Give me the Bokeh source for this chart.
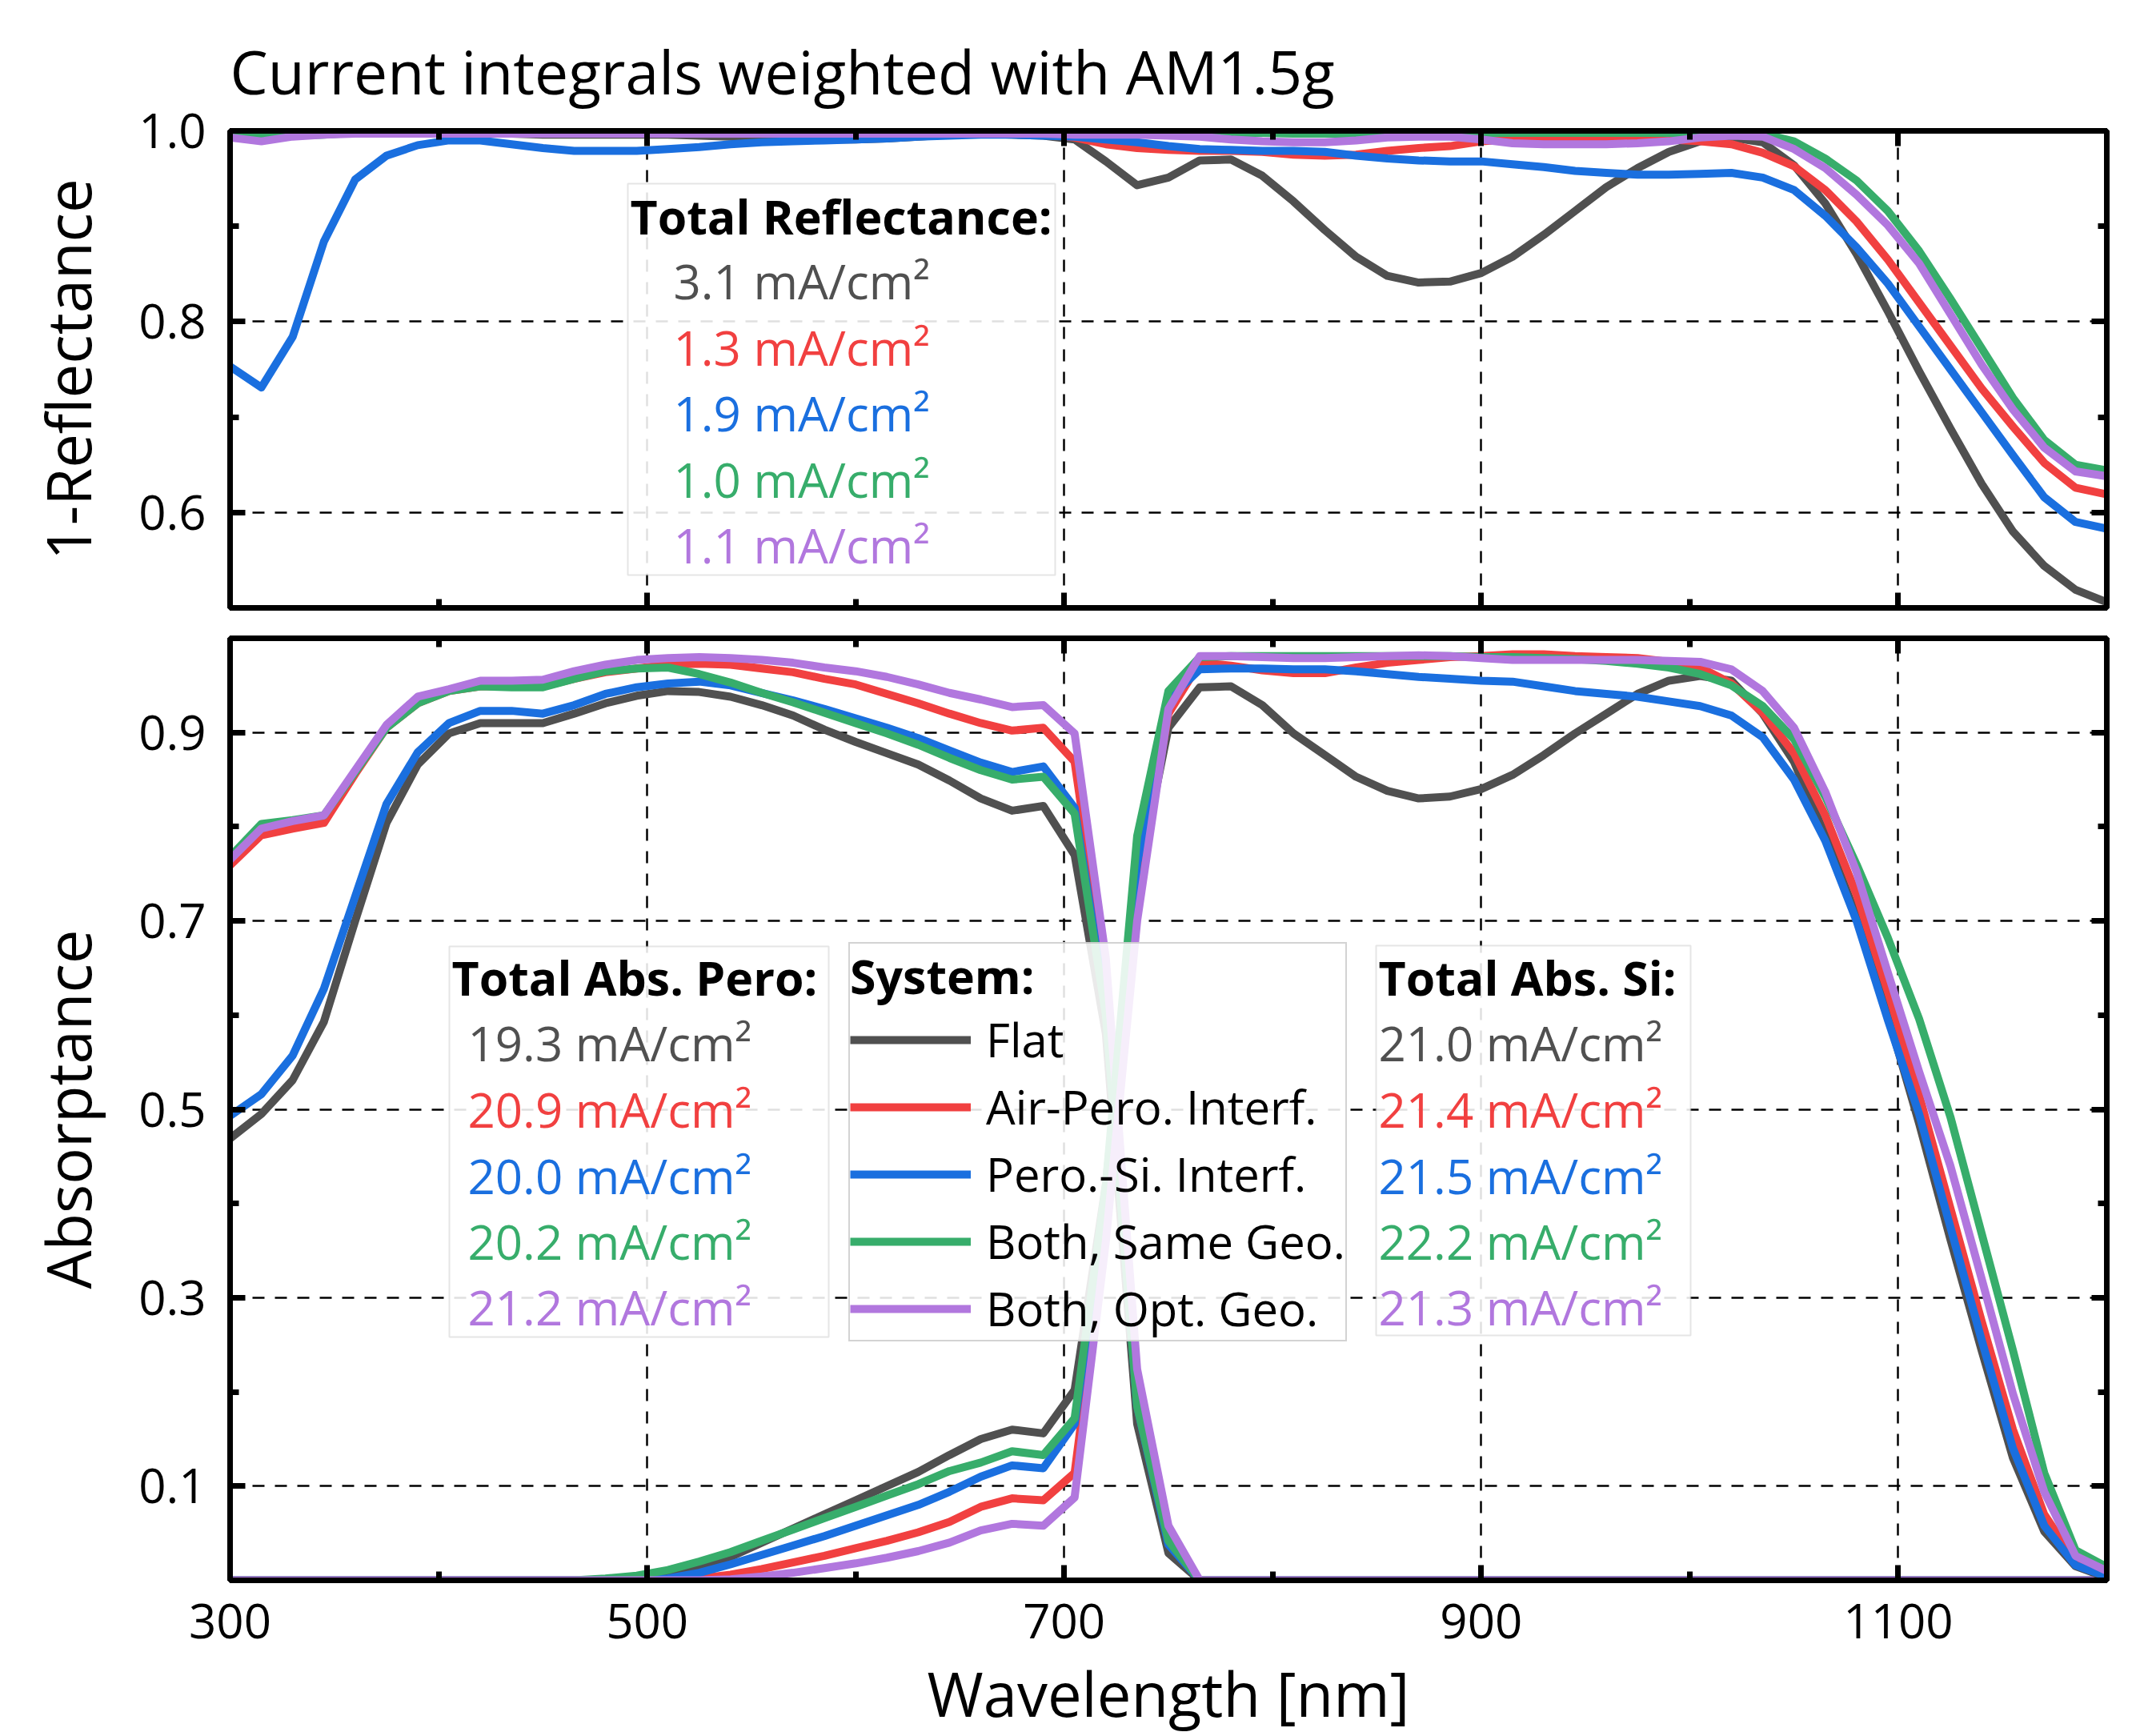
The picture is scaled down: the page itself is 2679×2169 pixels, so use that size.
from bokeh.plotting import figure
from bokeh.models import (Range1d, FixedTicker, LinearAxis, PrintfTickFormatter,
                          CustomJSTickFormatter, BoxAnnotation, Label, Legend, LegendItem)
from bokeh.layouts import column
from bokeh.embed import file_html
from bokeh.resources import INLINE

# ---------------- data ----------------
wavelength = [300, 315, 330, 345, 360, 375, 390, 405, 420, 435,
              450, 465, 480, 495, 510, 525, 540, 555, 570, 585,
              600, 615, 630, 645, 660, 675, 690, 705, 720, 735,
              750, 765, 780, 795, 810, 825, 840, 855, 870, 885,
              900, 915, 930, 945, 960, 975, 990, 1005, 1020, 1035,
              1050, 1065, 1080, 1095, 1110, 1125, 1140, 1155, 1170, 1185,
              1200]

systems = ["Flat", "Air-Pero. Interf.", "Pero.-Si. Interf.", "Both, Same Geo.", "Both, Opt. Geo."]
colors = ["#505050", "#F14040", "#1A6FDF", "#37AD6B", "#B177DE"]

refl_currents = ["3.1", "1.3", "1.9", "1.0", "1.1"]
pero_currents = ["19.3", "20.9", "20.0", "20.2", "21.2"]
si_currents = ["21.0", "21.4", "21.5", "22.2", "21.3"]

x_major = [300, 500, 700, 900, 1100]
x_minor = [400, 600, 800, 1000, 1200]
x_grid = [500, 700, 900, 1100]
top_y_major = [0.6, 0.8, 1.0]
top_y_minor = [0.5, 0.7, 0.9]
bot_y_major = [0.1, 0.3, 0.5, 0.7, 0.9]
bot_y_minor = [0.0, 0.2, 0.4, 0.6, 0.8, 1.0]

# 1 - Reflectance
refl_flat = [0.997, 0.996, 0.997, 0.998, 0.998, 0.998, 0.998, 0.998, 0.997, 0.997,
             0.996, 0.996, 0.996, 0.996, 0.996, 0.995, 0.994, 0.993, 0.992, 0.991,
             0.991, 0.992, 0.994, 0.996, 0.997, 0.996, 0.995, 0.991, 0.968, 0.943,
             0.951, 0.969, 0.970, 0.953, 0.926, 0.896, 0.868, 0.848, 0.841, 0.842,
             0.851, 0.868, 0.891, 0.916, 0.941, 0.961, 0.978, 0.989, 0.993, 0.988,
             0.964, 0.924, 0.871, 0.811, 0.748, 0.688, 0.630, 0.580, 0.544, 0.519,
             0.506]
refl_air = [0.996, 0.994, 0.996, 0.997, 0.998, 0.998, 0.998, 0.998, 0.998, 0.998,
            0.998, 0.998, 0.998, 0.998, 0.998, 0.998, 0.998, 0.997, 0.997, 0.997,
            0.996, 0.996, 0.997, 0.997, 0.998, 0.998, 0.997, 0.993, 0.986, 0.982,
            0.980, 0.979, 0.979, 0.978, 0.975, 0.974, 0.975, 0.979, 0.982, 0.984,
            0.989, 0.991, 0.992, 0.993, 0.993, 0.993, 0.991, 0.989, 0.986, 0.977,
            0.963, 0.938, 0.905, 0.865, 0.820, 0.775, 0.730, 0.690, 0.652, 0.626,
            0.619]
refl_si = [0.753, 0.731, 0.784, 0.884, 0.949, 0.974, 0.985, 0.990, 0.990, 0.986,
           0.982, 0.979, 0.979, 0.979, 0.981, 0.983, 0.986, 0.988, 0.989, 0.990,
           0.991, 0.992, 0.994, 0.995, 0.996, 0.996, 0.995, 0.994, 0.991, 0.988,
           0.984, 0.981, 0.980, 0.979, 0.979, 0.978, 0.974, 0.971, 0.969, 0.968,
           0.968, 0.965, 0.962, 0.958, 0.956, 0.954, 0.954, 0.955, 0.956, 0.951,
           0.938, 0.911, 0.878, 0.840, 0.795, 0.750, 0.705, 0.660, 0.616, 0.590,
           0.583]
refl_same = [0.998, 0.995, 0.995, 0.996, 0.998, 0.998, 0.998, 0.998, 0.998, 0.998,
             0.998, 0.998, 0.998, 0.998, 0.998, 0.998, 0.998, 0.998, 0.998, 0.998,
             0.998, 0.998, 0.998, 0.998, 0.998, 0.998, 0.998, 0.998, 0.998, 0.998,
             0.998, 0.998, 0.998, 0.998, 0.997, 0.997, 0.997, 0.998, 0.998, 0.998,
             0.998, 0.998, 0.998, 0.998, 0.998, 0.998, 0.998, 0.998, 0.998, 0.997,
             0.989, 0.971, 0.948, 0.916, 0.874, 0.824, 0.772, 0.720, 0.676, 0.650,
             0.644]
refl_opt = [0.993, 0.989, 0.994, 0.996, 0.997, 0.997, 0.997, 0.997, 0.997, 0.997,
            0.997, 0.997, 0.997, 0.997, 0.997, 0.997, 0.997, 0.997, 0.997, 0.997,
            0.997, 0.997, 0.997, 0.997, 0.997, 0.997, 0.997, 0.996, 0.996, 0.996,
            0.995, 0.994, 0.991, 0.989, 0.988, 0.988, 0.990, 0.993, 0.994, 0.994,
            0.991, 0.987, 0.986, 0.986, 0.986, 0.987, 0.989, 0.993, 0.995, 0.994,
            0.981, 0.961, 0.933, 0.901, 0.861, 0.808, 0.755, 0.708, 0.668, 0.643,
            0.638]

# Absorptance in perovskite
pero_flat = [0.469, 0.495, 0.531, 0.593, 0.700, 0.804, 0.866, 0.899, 0.910, 0.910,
             0.910, 0.920, 0.931, 0.939, 0.944, 0.943, 0.938, 0.929, 0.918, 0.903,
             0.890, 0.878, 0.866, 0.849, 0.830, 0.817, 0.822, 0.770, 0.580, 0.166,
             0.029, 0.0, 0.0, 0.0, 0.0, 0.0, 0.0, 0.0, 0.0, 0.0,
             0.0, 0.0, 0.0, 0.0, 0.0, 0.0, 0.0, 0.0, 0.0, 0.0,
             0.0, 0.0, 0.0, 0.0, 0.0, 0.0, 0.0, 0.0, 0.0, 0.0,
             0.0]
pero_air = [0.759, 0.791, 0.798, 0.804, 0.856, 0.905, 0.931, 0.944, 0.949, 0.949,
            0.949, 0.957, 0.964, 0.968, 0.972, 0.973, 0.972, 0.968, 0.964, 0.957,
            0.951, 0.941, 0.931, 0.920, 0.910, 0.902, 0.905, 0.869, 0.640, 0.205,
            0.045, 0.0, 0.0, 0.0, 0.0, 0.0, 0.0, 0.0, 0.0, 0.0,
            0.0, 0.0, 0.0, 0.0, 0.0, 0.0, 0.0, 0.0, 0.0, 0.0,
            0.0, 0.0, 0.0, 0.0, 0.0, 0.0, 0.0, 0.0, 0.0, 0.0,
            0.0]
pero_si = [0.493, 0.516, 0.557, 0.628, 0.726, 0.824, 0.879, 0.910, 0.923, 0.923,
           0.920, 0.929, 0.941, 0.948, 0.952, 0.954, 0.950, 0.942, 0.934, 0.925,
           0.915, 0.905, 0.894, 0.881, 0.868, 0.858, 0.864, 0.820, 0.610, 0.185,
           0.038, 0.0, 0.0, 0.0, 0.0, 0.0, 0.0, 0.0, 0.0, 0.0,
           0.0, 0.0, 0.0, 0.0, 0.0, 0.0, 0.0, 0.0, 0.0, 0.0,
           0.0, 0.0, 0.0, 0.0, 0.0, 0.0, 0.0, 0.0, 0.0, 0.0,
           0.0]
pero_same = [0.768, 0.803, 0.807, 0.812, 0.858, 0.905, 0.931, 0.944, 0.949, 0.948,
             0.948, 0.957, 0.965, 0.968, 0.969, 0.962, 0.953, 0.942, 0.932, 0.921,
             0.910, 0.899, 0.887, 0.873, 0.860, 0.850, 0.853, 0.814, 0.600, 0.185,
             0.042, 0.0, 0.0, 0.0, 0.0, 0.0, 0.0, 0.0, 0.0, 0.0,
             0.0, 0.0, 0.0, 0.0, 0.0, 0.0, 0.0, 0.0, 0.0, 0.0,
             0.0, 0.0, 0.0, 0.0, 0.0, 0.0, 0.0, 0.0, 0.0, 0.0,
             0.0]
pero_opt = [0.765, 0.798, 0.806, 0.812, 0.860, 0.908, 0.938, 0.946, 0.955, 0.955,
            0.956, 0.965, 0.972, 0.977, 0.979, 0.980, 0.979, 0.977, 0.974, 0.969,
            0.965, 0.959, 0.951, 0.942, 0.935, 0.927, 0.929, 0.899, 0.660, 0.224,
            0.058, 0.0, 0.0, 0.0, 0.0, 0.0, 0.0, 0.0, 0.0, 0.0,
            0.0, 0.0, 0.0, 0.0, 0.0, 0.0, 0.0, 0.0, 0.0, 0.0,
            0.0, 0.0, 0.0, 0.0, 0.0, 0.0, 0.0, 0.0, 0.0, 0.0,
            0.0]

# Absorptance in silicon
si_flat = [0.0, 0.0, 0.0, 0.0, 0.0, 0.0, 0.0, 0.0, 0.0, 0.0,
           0.0, 0.0, 0.0, 0.0, 0.003, 0.012, 0.025, 0.040, 0.055, 0.070,
           0.085, 0.100, 0.115, 0.133, 0.150, 0.160, 0.156, 0.202, 0.420, 0.740,
           0.905, 0.948, 0.949, 0.929, 0.899, 0.876, 0.853, 0.838, 0.830, 0.832,
           0.840, 0.855, 0.876, 0.899, 0.920, 0.941, 0.955, 0.960, 0.955, 0.920,
           0.869, 0.791, 0.705, 0.600, 0.485, 0.362, 0.244, 0.130, 0.052, 0.015,
           0.003]
si_air = [0.0, 0.0, 0.0, 0.0, 0.0, 0.0, 0.0, 0.0, 0.0, 0.0,
          0.0, 0.0, 0.0, 0.0, 0.0, 0.002, 0.006, 0.012, 0.019, 0.026,
          0.034, 0.042, 0.051, 0.062, 0.078, 0.087, 0.085, 0.114, 0.370, 0.730,
          0.920, 0.974, 0.971, 0.966, 0.963, 0.963, 0.969, 0.974, 0.977, 0.980,
          0.981, 0.983, 0.983, 0.981, 0.980, 0.979, 0.975, 0.969, 0.952, 0.921,
          0.878, 0.812, 0.728, 0.625, 0.515, 0.395, 0.275, 0.160, 0.070, 0.020,
          0.006]
si_si = [0.0, 0.0, 0.0, 0.0, 0.0, 0.0, 0.0, 0.0, 0.0, 0.0,
         0.0, 0.0, 0.0, 0.0, 0.002, 0.008, 0.017, 0.027, 0.037, 0.047,
         0.058, 0.069, 0.080, 0.094, 0.110, 0.122, 0.119, 0.166, 0.400, 0.760,
         0.935, 0.967, 0.968, 0.968, 0.967, 0.967, 0.965, 0.962, 0.959, 0.957,
         0.955, 0.954, 0.949, 0.944, 0.941, 0.938, 0.933, 0.928, 0.918, 0.895,
         0.850, 0.785, 0.700, 0.595, 0.495, 0.375, 0.255, 0.140, 0.058, 0.016,
         0.004]
si_same = [0.0, 0.0, 0.0, 0.0, 0.0, 0.0, 0.0, 0.0, 0.0, 0.0,
           0.0, 0.0, 0.002, 0.005, 0.011, 0.020, 0.030, 0.042, 0.054, 0.066,
           0.078, 0.090, 0.102, 0.116, 0.125, 0.137, 0.133, 0.172, 0.420, 0.790,
           0.944, 0.980, 0.981, 0.981, 0.981, 0.981, 0.981, 0.981, 0.981, 0.981,
           0.980, 0.980, 0.979, 0.978, 0.976, 0.973, 0.969, 0.962, 0.950, 0.928,
           0.893, 0.832, 0.760, 0.682, 0.596, 0.492, 0.368, 0.244, 0.114, 0.032,
           0.014]
si_opt = [0.0, 0.0, 0.0, 0.0, 0.0, 0.0, 0.0, 0.0, 0.0, 0.0,
          0.0, 0.0, 0.0, 0.0, 0.0, 0.0, 0.001, 0.004, 0.008, 0.013,
          0.018, 0.024, 0.031, 0.040, 0.053, 0.060, 0.058, 0.088, 0.360, 0.700,
          0.925, 0.981, 0.981, 0.980, 0.979, 0.979, 0.980, 0.981, 0.982, 0.981,
          0.979, 0.977, 0.977, 0.977, 0.977, 0.977, 0.976, 0.975, 0.967, 0.944,
          0.905, 0.837, 0.752, 0.645, 0.540, 0.440, 0.320, 0.198, 0.094, 0.026,
          0.010]

refl_series = [refl_flat, refl_air, refl_si, refl_same, refl_opt]
pero_series = [pero_flat, pero_air, pero_si, pero_same, pero_opt]
si_series = [si_flat, si_air, si_si, si_same, si_opt]

# ---------------- layout constants (page pixels) ----------------
FONT = "Open Sans"
W = 2660
FRAME_L, FRAME_R = 287, 2632
TOP_T, TOP_B = 163, 759
BOT_T, BOT_B = 797, 1974
BORDER_L = FRAME_L
BORDER_R = W - FRAME_R
BOT_BORDER1 = 10
H1 = TOP_B + BOT_BORDER1
TOP_BORDER1 = TOP_T
TOP_BORDER2 = BOT_T - H1
BOT_BORDER2 = 195
H2 = TOP_BORDER2 + (BOT_B - BOT_T) + BOT_BORDER2
TEXT_SHIFT = -21   # label baseline correction, pixels

LW = 10


def px_x(px):
    return 300 + (px - FRAME_L) * 900.0 / (FRAME_R - FRAME_L)


def top_y(py):
    return 1.0 - (py - TOP_T) * 0.5 / (TOP_B - TOP_T)


def bot_y(py):
    return 1.0 - (py - BOT_T) * 1.0 / (BOT_B - BOT_T)


def style_axis(ax, show_labels):
    ax.axis_line_width = 7
    ax.axis_line_color = "black"
    ax.major_tick_in = 19
    ax.major_tick_out = 0
    ax.minor_tick_in = 11
    ax.minor_tick_out = 0
    ax.major_tick_line_width = 7
    ax.minor_tick_line_width = 7
    ax.major_tick_line_color = "black"
    ax.minor_tick_line_color = "black"
    if show_labels:
        ax.major_label_text_font = FONT
        ax.major_label_text_font_size = "60px"
        ax.major_label_text_color = "black"
    else:
        ax.formatter = CustomJSTickFormatter(code="return ''")
        ax.major_label_text_font_size = "1px"
        ax.major_label_standoff = 0


def build(fig_h, b_top, b_bot, y0, y1, yticks, yminor, xlabels):
    p = figure(width=W, height=fig_h, x_range=Range1d(300, 1200), y_range=Range1d(y0, y1),
               output_backend="svg", toolbar_location=None,
               min_border_left=BORDER_L, min_border_right=BORDER_R,
               min_border_top=b_top, min_border_bottom=b_bot)
    p.background_fill_color = "white"
    p.border_fill_color = "white"
    p.outline_line_color = "black"
    p.outline_line_width = 7
    xb = p.below[0]
    yl = p.left[0]
    xb.ticker = FixedTicker(ticks=x_major, minor_ticks=x_minor)
    yl.ticker = FixedTicker(ticks=yticks, minor_ticks=yminor)
    yl.formatter = PrintfTickFormatter(format="%.1f")
    style_axis(yl, True)
    yl.major_label_standoff = 30
    if xlabels:
        xb.formatter = PrintfTickFormatter(format="%d")
        style_axis(xb, True)
        xb.major_label_standoff = 29
    else:
        style_axis(xb, False)
    ax_top = LinearAxis(ticker=FixedTicker(ticks=x_major, minor_ticks=x_minor))
    style_axis(ax_top, False)
    p.add_layout(ax_top, "above")
    ax_right = LinearAxis(ticker=FixedTicker(ticks=yticks, minor_ticks=yminor))
    style_axis(ax_right, False)
    p.add_layout(ax_right, "right")
    p.xgrid.ticker = FixedTicker(ticks=x_grid)
    p.ygrid.ticker = FixedTicker(ticks=yticks)
    for g in (p.xgrid, p.ygrid):
        g.grid_line_color = "black"
        g.grid_line_width = 2.5
        g.grid_line_dash = "15 13"
    return p, xb, yl


def set_axis_label(ax, text, standoff):
    ax.axis_label = text
    ax.axis_label_text_font = FONT
    ax.axis_label_text_font_size = "76px"
    ax.axis_label_text_font_style = "normal"
    ax.axis_label_text_color = "black"
    ax.axis_label_standoff = standoff


def value_box(p, box, header, hx, hy, vx, vys, values, conv):
    l, t, r, b = box
    p.add_layout(BoxAnnotation(left=px_x(l), right=px_x(r), top=conv(t), bottom=conv(b),
                               fill_color="white", fill_alpha=0.88,
                               line_color="#a8a8a8", line_width=2))
    p.add_layout(Label(x=px_x(hx), y=conv(hy + TEXT_SHIFT), text=header, text_font=FONT,
                       text_font_size="59px", text_font_style="bold", text_color="black",
                       text_baseline="alphabetic", text_align="left"))
    for v, yy, c in zip(values, vys, colors):
        p.add_layout(Label(x=px_x(vx), y=conv(yy + TEXT_SHIFT), text=v + " mA/cm\u00b2",
                           text_font=FONT, text_font_size="60px", text_color=c,
                           text_baseline="alphabetic", text_align="left"))


# ---------------- top panel ----------------
p1, p1_x, p1_y = build(H1, TOP_BORDER1, BOT_BORDER1, 0.5, 1.0, top_y_major, top_y_minor, False)
p1.title.text = "Current integrals weighted with AM1.5g"
p1.title.text_font = FONT
p1.title.text_font_size = "75px"
p1.title.text_font_style = "normal"
p1.title.text_color = "black"
p1.title.align = "left"
p1.title.standoff = 48
set_axis_label(p1_y, "1-Reflectance", 34)

for ys, c in zip(refl_series, colors):
    p1.line(wavelength, ys, line_color=c, line_width=LW, line_join="round")

value_box(p1, (784, 229, 1318, 718), "Total Reflectance:", 787, 290, 841,
          [371, 454, 536, 619, 701], refl_currents, top_y)

# ---------------- bottom panel ----------------
p2, p2_x, p2_y = build(H2, TOP_BORDER2, BOT_BORDER2, 0.0, 1.0, bot_y_major, bot_y_minor, True)
set_axis_label(p2_y, "Absorptance", 34)
set_axis_label(p2_x, "Wavelength [nm]", 14)

pero_renderers = []
for ys, c in zip(pero_series, colors):
    pero_renderers.append(p2.line(wavelength, ys, line_color=c, line_width=LW, line_join="round"))
for ys, c in zip(si_series, colors):
    p2.line(wavelength, ys, line_color=c, line_width=LW, line_join="round")

value_box(p2, (561, 1182, 1035, 1670), "Total Abs. Pero:", 564, 1241, 584,
          [1323, 1406, 1489, 1571, 1653], pero_currents, bot_y)

legend = Legend(items=[LegendItem(label=s, renderers=[r]) for s, r in zip(systems, pero_renderers)],
                location=(1060 - FRAME_L, BOT_B - 1676),
                title="System:", title_text_font=FONT, title_text_font_size="59px",
                title_text_font_style="bold", title_standoff=0, title_text_color="black",
                label_text_font=FONT, label_text_font_size="58px", label_text_color="black",
                glyph_width=151, glyph_height=78, label_height=78, label_standoff=19,
                spacing=5, padding=0, margin=0,
                border_line_color="#a8a8a8", border_line_width=2,
                background_fill_color="white", background_fill_alpha=0.88)
p2.add_layout(legend)

value_box(p2, (1719, 1181, 2112, 1668), "Total Abs. Si:", 1722, 1241, 1722,
          [1323, 1406, 1489, 1571, 1653], si_currents, bot_y)

layout = column(p1, p2)
open("out.html", "w").write(file_html(layout, INLINE))
